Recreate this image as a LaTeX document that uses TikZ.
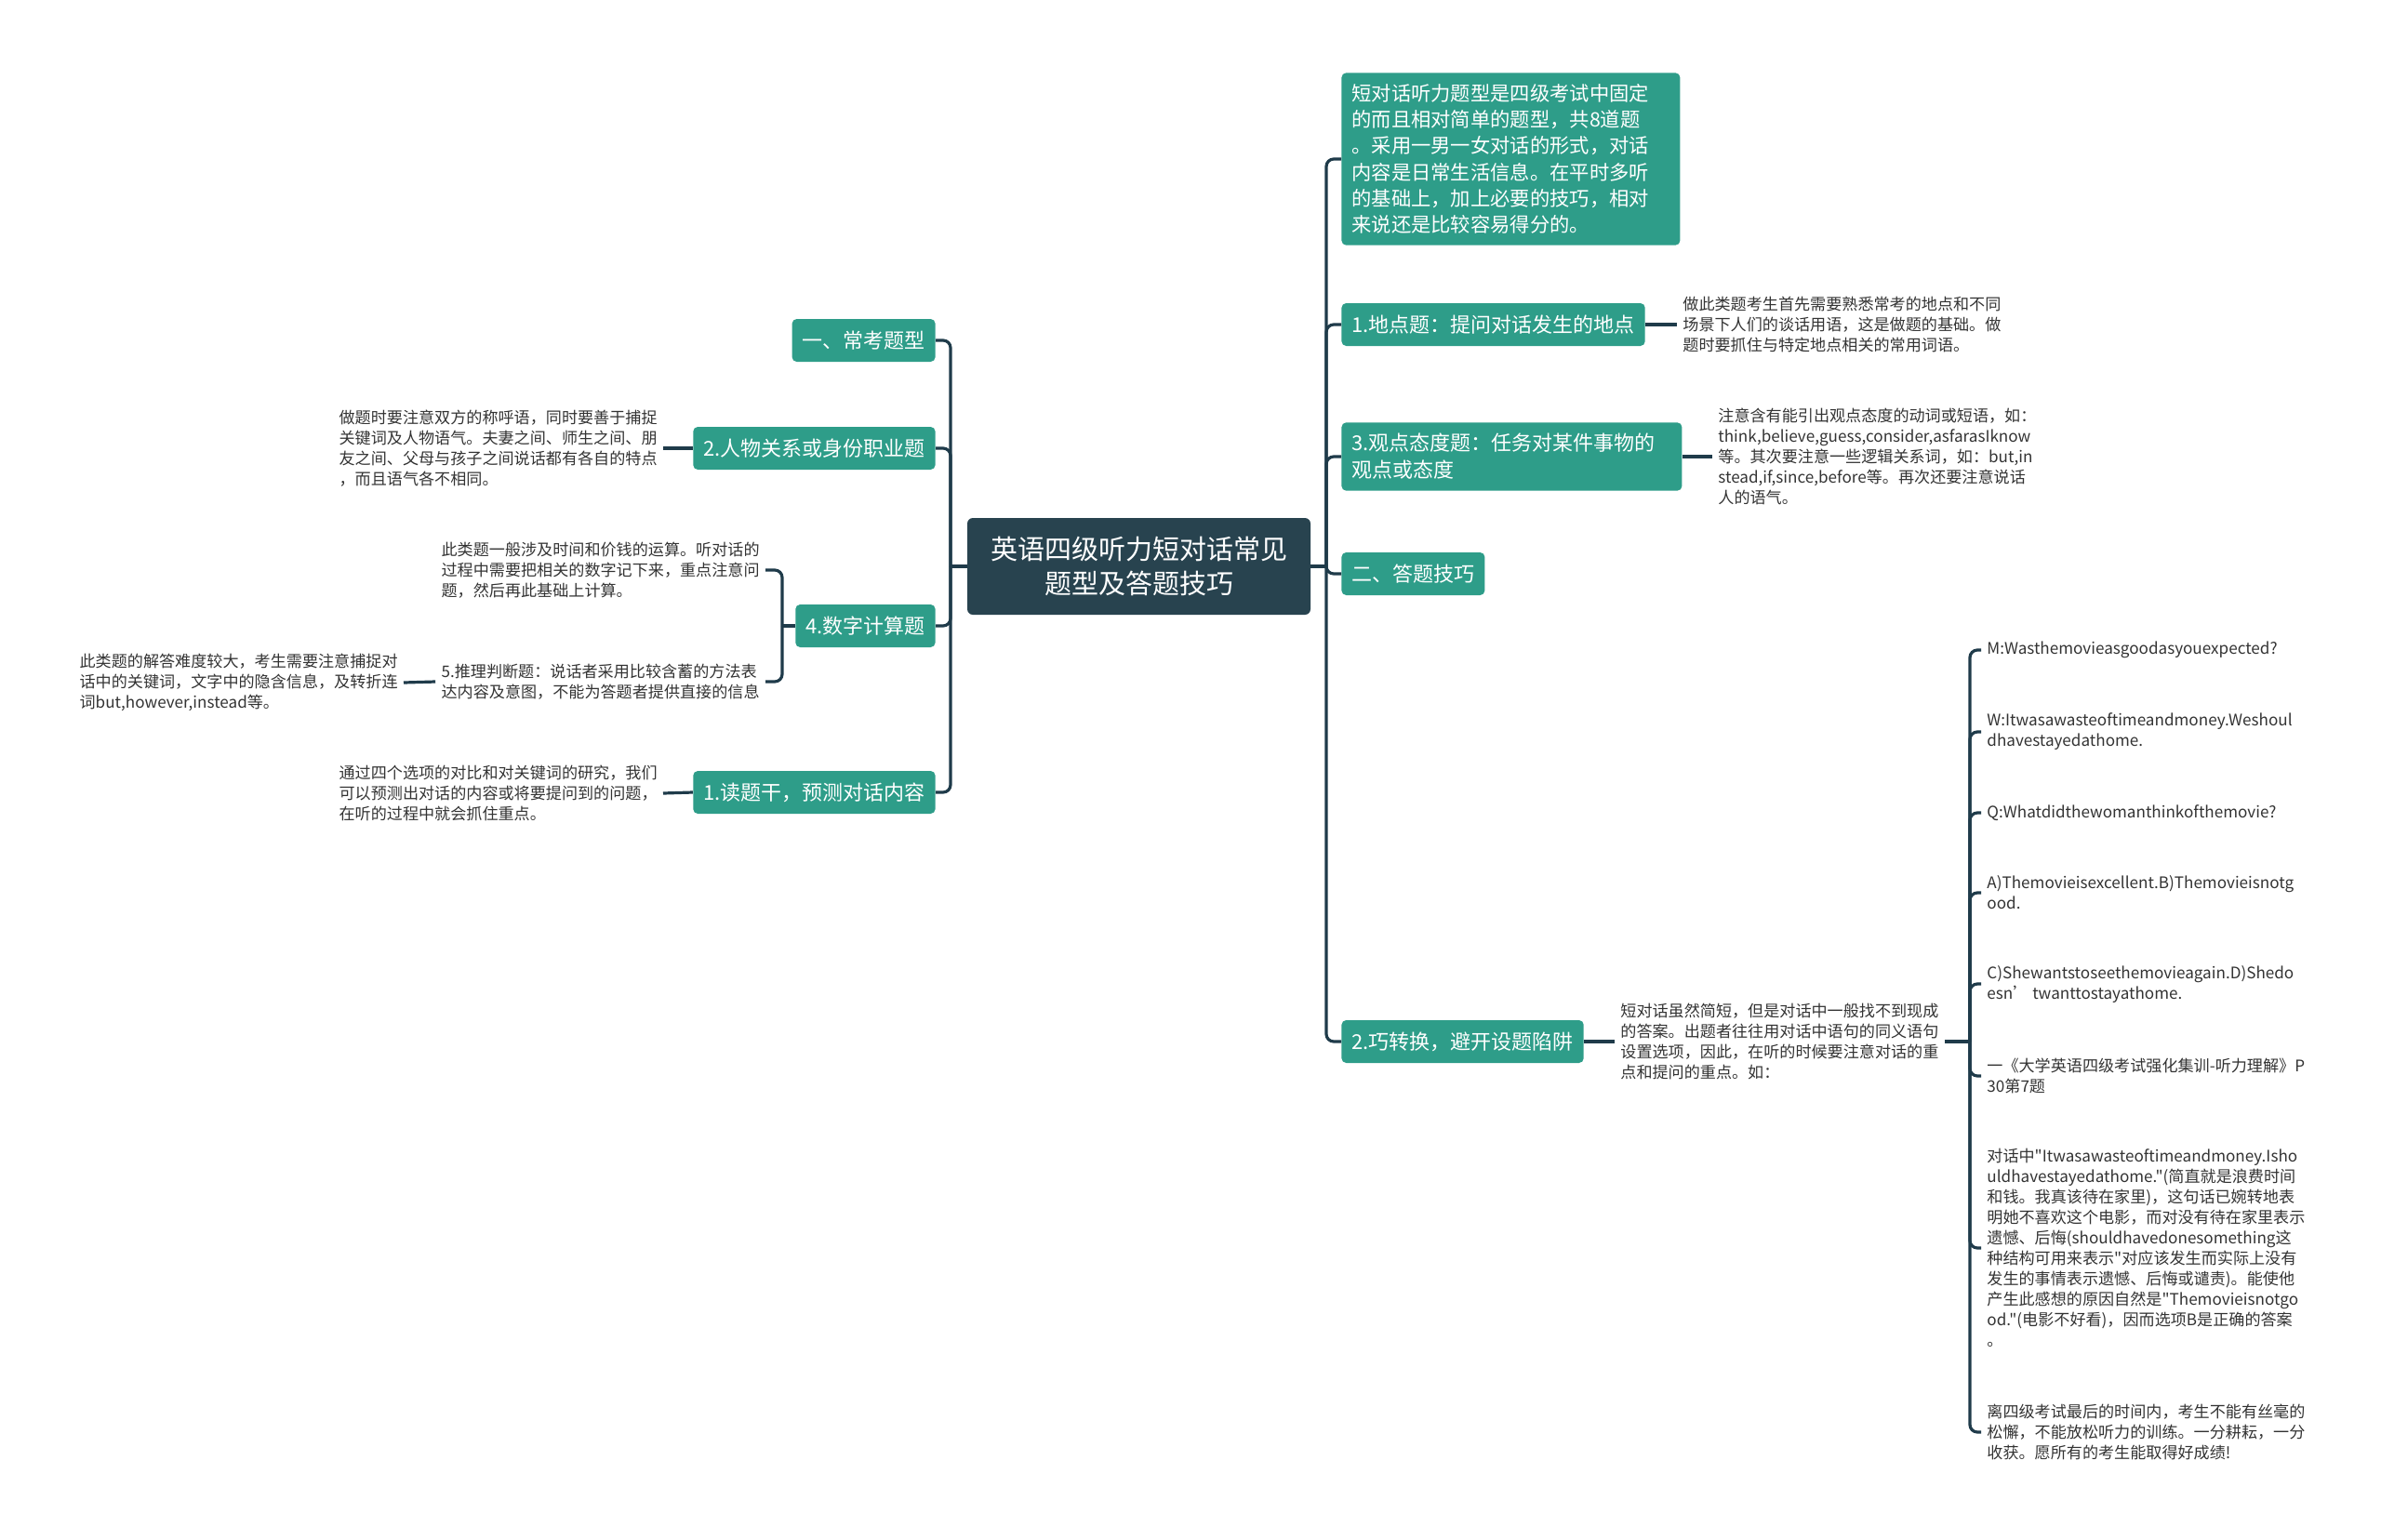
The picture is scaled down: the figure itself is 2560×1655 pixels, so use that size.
\documentclass[tikz,border=0pt]{standalone}
\usepackage{fontspec}
\setmainfont{Noto Sans CJK SC}[Ligatures=TeXOff]
\usepackage{xcolor}
\definecolor{rootcol}{HTML}{28434F}
\definecolor{topiccol}{HTML}{2E9D89}
\definecolor{linecol}{HTML}{1F3B4A}
\definecolor{leafcol}{HTML}{333333}
\tikzset{
  rootbox/.style={fill=rootcol, text=white, rounded corners=3pt, align=center,
    minimum width=184.5pt, minimum height=52pt, font=\fontsize{14.5}{18.8}\selectfont},
  topic/.style={fill=topiccol, text=white, rounded corners=2.5pt, align=left,
    inner xsep=5.5pt, inner ysep=6pt, minimum height=23pt, font=\fontsize{11}{14.5}\selectfont},
  leaf/.style={text=leafcol, align=left, inner xsep=3pt, inner ysep=0pt,
    font=\fontsize{8.55}{11}\selectfont},
  link/.style={draw=linecol, line width=1.6pt, rounded corners=4pt}
}
\begin{document}
\begin{tikzpicture}[x=0.5pt,y=-0.5pt]
\useasboundingbox (0,0) rectangle (2560,1655);
%centre
\node[rootbox] (root) at (1224.5,609) {英语四级听力短对话常见\\题型及答题技巧};
\coordinate (lt) at (1022,609);
\coordinate (rt) at (1426,609);

%left branches
\node[topic, anchor=east] (t1) at (1006,366) {一、常考题型};
\node[topic, anchor=east] (t2) at (1006,482) {2.人物关系或身份职业题};
\node[topic, anchor=east] (t4) at (1006,673) {4.数字计算题};
\node[topic, anchor=east] (t5) at (1006,852) {1.读题干，预测对话内容};

\node[leaf, anchor=east] (l2) at (713,482) {做题时要注意双方的称呼语，同时要善于捕捉\\关键词及人物语气。夫妻之间、师生之间、朋\\友之间、父母与孩子之间说话都有各自的特点\\，而且语气各不相同。};
\node[leaf, anchor=east] (l4a) at (823,613) {此类题一般涉及时间和价钱的运算。听对话的\\过程中需要把相关的数字记下来，重点注意问\\题，然后再此基础上计算。};
\node[leaf, anchor=east] (l4b) at (823,733) {5.推理判断题：说话者采用比较含蓄的方法表\\达内容及意图，不能为答题者提供直接的信息};
\node[leaf, anchor=east] (l4c) at (434,734) {此类题的解答难度较大，考生需要注意捕捉对\\话中的关键词，文字中的隐含信息，及转折连\\词but,however,instead等。};
\node[leaf, anchor=east] (l5) at (713,853) {通过四个选项的对比和对关键词的研究，我们\\可以预测出对话的内容或将要提问到的问题，\\在听的过程中就会抓住重点。};
\coordinate (nb) at (841,673);

%right branches
\node[topic, anchor=west, text width=171pt, font=\fontsize{10.65}{14.15}\selectfont] (r0) at (1442,171) {短对话听力题型是四级考试中固定\\的而且相对简单的题型，共8道题\\。采用一男一女对话的形式，对话\\内容是日常生活信息。在平时多听\\的基础上，加上必要的技巧，相对\\来说还是比较容易得分的。};
\node[topic, anchor=west] (r1) at (1442,349) {1.地点题：提问对话发生的地点};
\node[topic, anchor=west, text width=172pt] (r3) at (1442,491) {3.观点态度题：任务对某件事物的\\观点或态度};
\node[topic, anchor=west] (r2) at (1442,617) {二、答题技巧};
\node[topic, anchor=west] (r5) at (1442,1120) {2.巧转换，避开设题陷阱};

\node[leaf, anchor=west] (lr1) at (1803,349) {做此类题考生首先需要熟悉常考的地点和不同\\场景下人们的谈话用语，这是做题的基础。做\\题时要抓住与特定地点相关的常用词语。};
\node[leaf, anchor=west] (lr3) at (1841,491) {注意含有能引出观点态度的动词或短语，如：\\think,believe,guess,consider,asfarasIknow\\等。其次要注意一些逻辑关系词，如：but,in\\stead,if,since,before等。再次还要注意说话\\人的语气。};
\node[leaf, anchor=west] (lr5) at (1736,1120) {短对话虽然简短，但是对话中一般找不到现成\\的答案。出题者往往用对话中语句的同义语句\\设置选项，因此，在听的时候要注意对话的重\\点和提问的重点。如：};
\coordinate (sb) at (2118,1120);

%example dialogue
\node[leaf, anchor=west] (s1) at (2130,699) {M:Wasthemovieasgoodasyouexpected?};
\node[leaf, anchor=west] (s2) at (2130,787) {W:Itwasawasteoftimeandmoney.Weshoul\\dhavestayedathome.};
\node[leaf, anchor=west] (s3) at (2130,874) {Q:Whatdidthewomanthinkofthemovie?};
\node[leaf, anchor=west] (s4) at (2130,960) {A)Themovieisexcellent.B)Themovieisnotg\\ood.};
\node[leaf, anchor=west] (s5) at (2130,1058) {C)Shewantstoseethemovieagain.D)Shedo\\esn’\ twanttostayathome.};
\node[leaf, anchor=west] (s6) at (2130,1157) {一《大学英语四级考试强化集训-听力理解》P\\30第7题};
\node[leaf, anchor=west] (s7) at (2130,1342) {对话中"Itwasawasteoftimeandmoney.Isho\\uldhavestayedathome."(简直就是浪费时间\\和钱。我真该待在家里)，这句话已婉转地表\\明她不喜欢这个电影，而对没有待在家里表示\\遗憾、后悔(shouldhavedonesomething这\\种结构可用来表示"对应该发生而实际上没有\\发生的事情表示遗憾、后悔或谴责)。能使他\\产生此感想的原因自然是"Themovieisnotgo\\od."(电影不好看)，因而选项B是正确的答案\\。};
\node[leaf, anchor=west] (s8) at (2130,1540) {离四级考试最后的时间内，考生不能有丝毫的\\松懈，不能放松听力的训练。一分耕耘，一分\\收获。愿所有的考生能取得好成绩!};

%connectors
\draw[link] (root.west) -- (lt);
\foreach \n in {t1,t2,t4,t5} \draw[link] (lt) |- (\n.east);
\draw[link] (root.east) -- (rt);
\foreach \n in {r0,r1,r3,r2,r5} \draw[link] (rt) |- (\n.west);
\draw[link] (t2.west) -- (l2.east);
\draw[link] (t5.west) -- (l5.east);
\draw[link] (t4.west) -- (nb);
\foreach \n in {l4a,l4b} \draw[link] (nb) |- (\n.east);
\draw[link] (l4b.west) -- (l4c.east);
\draw[link] (r1.east) -- (lr1.west);
\draw[link] (r3.east) -- (lr3.west);
\draw[link] (r5.east) -- (lr5.west);
\draw[link] (lr5.east) -- (sb);
\foreach \n in {s1,s2,s3,s4,s5,s6,s7,s8} \draw[link] (sb) |- (\n.west);
\end{tikzpicture}
\end{document}
